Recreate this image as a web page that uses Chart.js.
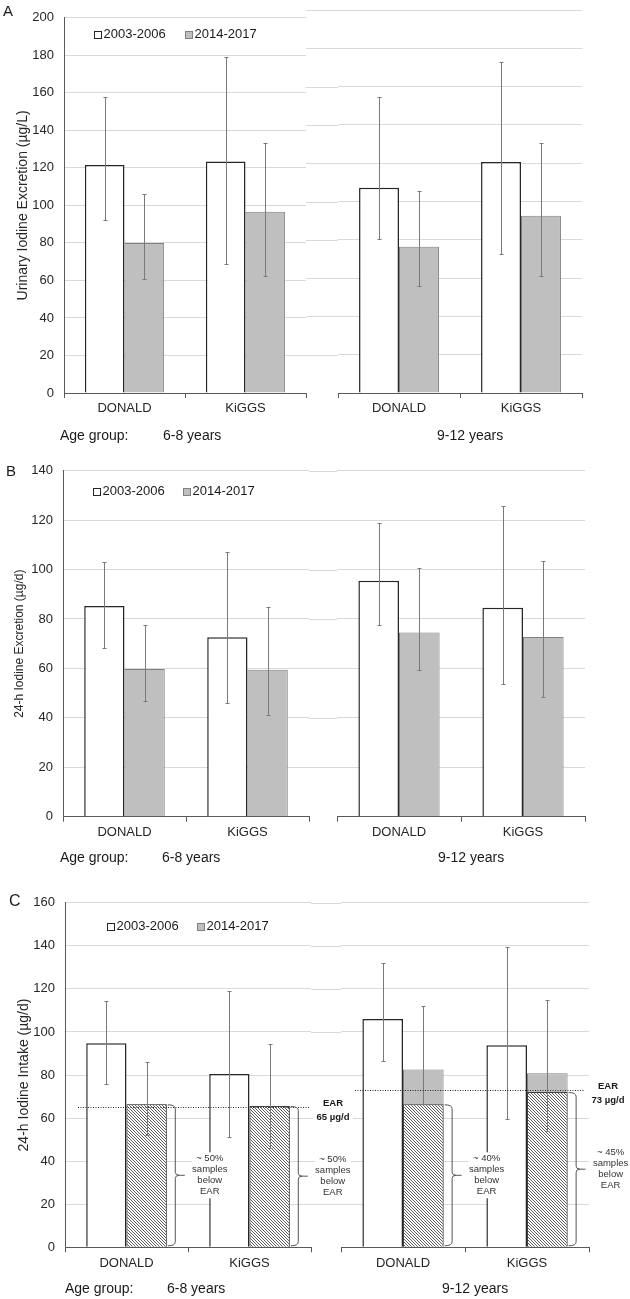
<!DOCTYPE html>
<html>
<head>
<meta charset="utf-8">
<script src="https://cdn.jsdelivr.net/npm/chart.js@4"></script>
<style>
  body { margin: 0; background: #fff; }
  #fig { position: relative; width: 630px; height: 1299px; font-family: "Liberation Sans", Arial, sans-serif; color: #1a1a1a; overflow: hidden; }
  #fig canvas { position: absolute; }
  .lbl { position: absolute; white-space: nowrap; font-size: 14px; line-height: 16px; z-index: 5; }
  .panel { font-size: 15px; }
</style>
</head>
<body>
<div id="fig">
  <div class="lbl panel" style="left:3px;top:3px">A</div>
  <div class="lbl panel" style="left:6px;top:463px">B</div>
  <div class="lbl panel" style="left:9px;top:893px;font-size:16px">C</div>

  <div class="lbl" style="left:60px;top:427px">Age group:</div>
  <div class="lbl" style="left:163px;top:427px">6-8 years</div>
  <div class="lbl" style="left:437px;top:427px">9-12 years</div>

  <div class="lbl" style="left:60px;top:849px">Age group:</div>
  <div class="lbl" style="left:162px;top:849px">6-8 years</div>
  <div class="lbl" style="left:438px;top:849px">9-12 years</div>

  <div class="lbl" style="left:65px;top:1280px">Age group:</div>
  <div class="lbl" style="left:167px;top:1280px">6-8 years</div>
  <div class="lbl" style="left:442px;top:1280px">9-12 years</div>

  <canvas id="a68"></canvas><canvas id="a912"></canvas>
  <canvas id="b68"></canvas><canvas id="b912"></canvas>
  <canvas id="c68"></canvas><canvas id="c912"></canvas>
</div>
<script>
Chart.defaults.font.family = '"Liberation Sans", Arial, sans-serif';
Chart.defaults.color = "#262626";

const groups = ["DONALD", "KiGGS"];
const periods = ["2003-2006", "2014-2017"];

// A: urinary iodine excretion (µg/L)
const aTicks = [0, 20, 40, 60, 80, 100, 120, 140, 160, 180, 200];
const a68_2003 = [121.5, 123.4];
const a68_2003lo = [92, 69];
const a68_2003hi = [158, 179];
const a68_2014 = [80, 96.6];
const a68_2014lo = [61, 62.5];
const a68_2014hi = [106.3, 133.5];
const a912_2003 = [107.2, 120.6];
const a912_2003lo = [80.2, 72.4];
const a912_2003hi = [154.4, 173];
const a912_2014 = [76.4, 92.6];
const a912_2014lo = [55.9, 60.9];
const a912_2014hi = [105.6, 130.7];

// B: 24-h iodine excretion (µg/d)
const bTicks = [0, 20, 40, 60, 80, 100, 120, 140];
const b68_2003 = [85.3, 72.6];
const b68_2003lo = [68.1, 45.9];
const b68_2003hi = [103.2, 107.3];
const b68_2014 = [59.8, 59.5];
const b68_2014lo = [46.8, 41];
const b68_2014hi = [77.6, 84.9];
const b912_2003 = [95.5, 84.5];
const b912_2003lo = [77.7, 53.6];
const b912_2003hi = [119, 125.7];
const b912_2014 = [74.5, 72.7];
const b912_2014lo = [59.4, 48.4];
const b912_2014hi = [100.8, 103.6];

// C: 24-h iodine intake (µg/d), with share below the EAR
const cTicks = [0, 20, 40, 60, 80, 100, 120, 140, 160];
const c68_2003 = [94.7, 80.5];
const c68_2003lo = [75.7, 51];
const c68_2003hi = [114.5, 119.1];
const c68_2014 = [66.4, 65.6];
const c68_2014lo = [52.1, 46];
const c68_2014hi = [86, 94.2];
const c68_below = [66.4, 65.6];
const c68_ear = 65;
const c68_notes = ["~ 50%", "~ 50%"];
const c912_2003 = [106, 93.8];
const c912_2003lo = [86.3, 59.4];
const c912_2003hi = [131.8, 139.3];
const c912_2014 = [82.5, 80.8];
const c912_2014lo = [66.4, 54.1];
const c912_2014hi = [111.9, 114.7];
const c912_below = [66.4, 72.1];
const c912_ear = 73;
const c912_notes = ["~ 40%", "~ 45%"];

const X_H = 22;
const FONT = '"Liberation Sans", Arial, sans-serif';

function hatchPattern() {
  const s = 3;
  const c = document.createElement("canvas");
  c.width = s; c.height = s;
  const g = c.getContext("2d");
  g.fillStyle = "#fff";
  g.fillRect(0, 0, s, s);
  g.strokeStyle = "#4d4d4d";
  g.lineWidth = 0.9;
  for (let k = -1; k <= 1; k++) {
    g.beginPath();
    g.moveTo(k * s, 0);
    g.lineTo(k * s + s, s);
    g.stroke();
  }
  return g.createPattern(c, "repeat");
}

// gridlines continue through the gap between the two age-group charts
const gapGrid = {
  id: "gapGrid",
  beforeDatasetsDraw(chart, args, o) {
    if (!o || !o.width) return;
    const { ctx, chartArea, scales: { y } } = chart;
    ctx.save();
    ctx.strokeStyle = "#d9d9d9";
    ctx.lineWidth = 1;
    y.ticks.forEach((t) => {
      if (t.value === y.min) return;
      const py = Math.round(y.getPixelForValue(t.value)) + 0.5;
      ctx.beginPath();
      ctx.moveTo(chartArea.left - o.width, py);
      ctx.lineTo(chartArea.left, py);
      ctx.stroke();
    });
    ctx.restore();
  },
};

const errorBars = {
  id: "errorBars",
  afterDatasetsDraw(chart) {
    const { ctx, scales: { y } } = chart;
    chart.data.datasets.forEach((ds, i) => {
      if (!ds.lo) return;
      const meta = chart.getDatasetMeta(i);
      ctx.save();
      ctx.strokeStyle = "#7a7a7a";
      ctx.lineWidth = 1;
      meta.data.forEach((bar, j) => {
        const x = Math.round(bar.x) + 0.5;
        const top = Math.round(y.getPixelForValue(ds.hi[j])) + 0.5;
        const bot = Math.round(y.getPixelForValue(ds.lo[j])) + 0.5;
        ctx.beginPath();
        ctx.moveTo(x, top); ctx.lineTo(x, bot);
        ctx.moveTo(x - 2, top); ctx.lineTo(x + 2, top);
        ctx.moveTo(x - 2, bot); ctx.lineTo(x + 2, bot);
        ctx.stroke();
      });
      ctx.restore();
    });
  },
};

function whiteBox(ctx, cx, cy, w, h) {
  ctx.fillStyle = "#fff";
  ctx.fillRect(cx - w / 2, cy - h / 2, w, h);
}

// EAR line, EAR label, braces and "samples below EAR" notes
const earNotes = {
  id: "earNotes",
  afterDatasetsDraw(chart, args, o) {
    if (!o || o.ear == null) return;
    const { ctx, chartArea: ca, scales: { y } } = chart;
    const ey = Math.round(y.getPixelForValue(o.ear)) + 0.5;
    ctx.save();
    ctx.strokeStyle = "#262626";
    ctx.lineWidth = 1;
    ctx.setLineDash([1, 1.5]);
    ctx.beginPath();
    ctx.moveTo(ca.left + o.lineFrom, ey);
    ctx.lineTo(ca.right - o.lineTo, ey);
    ctx.stroke();
    ctx.setLineDash([]);

    const lx = ca.right + o.labelDx;
    whiteBox(ctx, lx, ey + 3, 40, 26);
    ctx.fillStyle = "#1a1a1a";
    ctx.font = "bold 9.5px " + FONT;
    ctx.textAlign = "center";
    ctx.textBaseline = "middle";
    ctx.fillText("EAR", lx, ey - 4);
    ctx.fillText(o.ear + " µg/d", lx, ey + 9.5);

    const meta = chart.getDatasetMeta(o.dataset);
    meta.data.forEach((bar, j) => {
      const r = bar.x + bar.width / 2;
      const top = bar.y + 0.5, bot = bar.base - 1, mid = (top + bot) / 2;
      const vx = r + 8.5;
      ctx.strokeStyle = "#555";
      ctx.lineWidth = 1;
      ctx.beginPath();
      ctx.moveTo(r + 1, top);
      ctx.quadraticCurveTo(vx, top, vx, top + 4);
      ctx.lineTo(vx, mid - 3);
      ctx.quadraticCurveTo(vx, mid, vx + 4, mid);
      ctx.lineTo(r + 18, mid);
      ctx.moveTo(vx + 4, mid);
      ctx.quadraticCurveTo(vx, mid, vx, mid + 3);
      ctx.lineTo(vx, bot - 4);
      ctx.quadraticCurveTo(vx, bot, r + 1, bot);
      ctx.stroke();

      const tx = r + 43;
      whiteBox(ctx, tx, mid, 36, 46);
      ctx.fillStyle = "#333";
      ctx.font = "9.5px " + FONT;
      [o.notes[j], "samples", "below", "EAR"].forEach((line, k) => {
        ctx.fillText(line, tx, mid + (k - 1.5) * 11);
      });
    });
    ctx.restore();
  },
};

const keyLegend = {
  id: "keyLegend",
  afterDraw(chart, args, o) {
    if (!o || !o.show) return;
    const { ctx, chartArea } = chart;
    const y = chartArea.top + o.dy;
    ctx.save();
    ctx.font = "13px " + FONT;
    ctx.textBaseline = "middle";
    ctx.textAlign = "left";
    chart.data.datasets.filter((d) => d.label).forEach((d, i) => {
      const x = Math.round(chartArea.left + o.dx + i * o.gap);
      ctx.fillStyle = d.backgroundColor;
      ctx.fillRect(x, Math.round(y) - 4, 8, 8);
      ctx.strokeStyle = d.borderColor;
      ctx.lineWidth = 1;
      ctx.strokeRect(x + 0.5, Math.round(y) - 3.5, 7, 7);
      ctx.fillStyle = "#1a1a1a";
      ctx.fillText(d.label, x + 9.5, y);
    });
    ctx.restore();
  },
};

const whiteBar = { stack: "p03", order: 0, backgroundColor: "#ffffff", borderColor: "#262626", borderWidth: 1.5 };
const grayBar = { stack: "p14", order: 2, backgroundColor: "#bfbfbf", borderColor: "#808080", borderWidth: 1 };
const hatchBar = { stack: "p14", order: 1, backgroundColor: hatchPattern(), borderColor: "#404040", borderWidth: 1 };

function series(style, label, data, lo, hi) {
  return Object.assign({}, style, { label, data, lo, hi });
}

function build(id, box, area, cfg) {
  const cv = document.getElementById(id);
  cv.width = box.w;
  cv.height = box.h;
  Object.assign(cv.style, {
    left: box.x + "px", top: box.y + "px",
    width: box.w + "px", height: box.h + "px", zIndex: cfg.z,
  });
  const ticks = cfg.ticks;
  const axis = !!cfg.title;
  return new Chart(cv, {
    type: "bar",
    data: { labels: groups, datasets: cfg.datasets },
    plugins: [gapGrid, errorBars, earNotes, keyLegend],
    options: {
      responsive: false,
      animation: false,
      events: [],
      layout: {
        padding: {
          left: 0,
          top: area.top - box.y,
          right: box.x + box.w - area.right,
          bottom: box.y + box.h - area.bottom - X_H,
        },
      },
      datasets: { bar: { categoryPercentage: 0.655, barPercentage: 1 } },
      plugins: {
        legend: { display: false },
        tooltip: { enabled: false },
        keyLegend: cfg.legend || {},
        gapGrid: { width: cfg.gap || 0 },
        earNotes: cfg.ear || {},
      },
      scales: {
        x: {
          stacked: true,
          grid: { offset: true, drawOnChartArea: false, tickLength: 5, color: "#595959" },
          border: { color: "#595959", width: 1 },
          ticks: { padding: 3, font: { size: 13 }, color: "#262626" },
          afterFit: (s) => { s.height = X_H; },
        },
        y: {
          stacked: false,
          min: ticks[0],
          max: ticks[ticks.length - 1],
          afterBuildTicks: (s) => { s.ticks = ticks.map((v) => ({ value: v })); },
          grid: { color: "#d9d9d9", drawTicks: false },
          border: { display: axis, color: "#595959", width: 1 },
          ticks: { display: axis, padding: 10, font: { size: 13 }, color: "#262626" },
          title: axis
            ? { display: true, text: cfg.title, font: { size: cfg.titleSize }, color: "#262626", padding: { top: cfg.titlePad, bottom: 0 } }
            : { display: false },
          afterFit: (s) => { s.width = area.left - box.x; },
        },
      },
    },
  });
}

// Panel A
build("a68", { x: 0, y: 0, w: 360, h: 420 }, { left: 64, top: 10, right: 306, bottom: 393 }, {
  z: 3, ticks: aTicks, title: "Urinary Iodine Excretion (µg/L)", titleSize: 14, titlePad: 14.6,
  legend: { show: true, dx: 30, dy: 17, gap: 91 },
  datasets: [
    series(whiteBar, periods[0], a68_2003, a68_2003lo, a68_2003hi),
    series(grayBar, periods[1], a68_2014, a68_2014lo, a68_2014hi),
  ],
});
build("a912", { x: 300, y: 0, w: 330, h: 420 }, { left: 338, top: 10, right: 582, bottom: 393 }, {
  z: 2, ticks: aTicks, gap: 32,
  datasets: [
    series(whiteBar, periods[0], a912_2003, a912_2003lo, a912_2003hi),
    series(grayBar, periods[1], a912_2014, a912_2014lo, a912_2014hi),
  ],
});

// Panel B
build("b68", { x: 0, y: 450, w: 360, h: 395 }, { left: 63, top: 470.7, right: 309, bottom: 816.7 }, {
  z: 3, ticks: bTicks, title: "24-h Iodine Excretion (µg/d)", titleSize: 12, titlePad: 12.8,
  legend: { show: true, dx: 30, dy: 21, gap: 90 },
  datasets: [
    series(whiteBar, periods[0], b68_2003, b68_2003lo, b68_2003hi),
    series(grayBar, periods[1], b68_2014, b68_2014lo, b68_2014hi),
  ],
});
build("b912", { x: 300, y: 450, w: 330, h: 395 }, { left: 337, top: 470.7, right: 585, bottom: 816.7 }, {
  z: 2, ticks: bTicks, gap: 28,
  datasets: [
    series(whiteBar, periods[0], b912_2003, b912_2003lo, b912_2003hi),
    series(grayBar, periods[1], b912_2014, b912_2014lo, b912_2014hi),
  ],
});

// Panel C
build("c68", { x: 0, y: 880, w: 360, h: 395 }, { left: 65, top: 902.7, right: 311, bottom: 1247.3 }, {
  z: 3, ticks: cTicks, title: "24-h Iodine Intake (µg/d)", titleSize: 14, titlePad: 16,
  legend: { show: true, dx: 42, dy: 24, gap: 90 },
  ear: { ear: c68_ear, notes: c68_notes, dataset: 1, lineFrom: 13, lineTo: 2, labelDx: 22 },
  datasets: [
    series(whiteBar, periods[0], c68_2003, c68_2003lo, c68_2003hi),
    Object.assign({}, hatchBar, { data: c68_below }),
    series(grayBar, periods[1], c68_2014, c68_2014lo, c68_2014hi),
  ],
});
build("c912", { x: 300, y: 880, w: 330, h: 395 }, { left: 341, top: 902.7, right: 589, bottom: 1247.3 }, {
  z: 2, ticks: cTicks, gap: 30,
  ear: { ear: c912_ear, notes: c912_notes, dataset: 1, lineFrom: 14, lineTo: 4, labelDx: 19 },
  datasets: [
    series(whiteBar, periods[0], c912_2003, c912_2003lo, c912_2003hi),
    Object.assign({}, hatchBar, { data: c912_below }),
    series(grayBar, periods[1], c912_2014, c912_2014lo, c912_2014hi),
  ],
});
</script>
</body>
</html>
